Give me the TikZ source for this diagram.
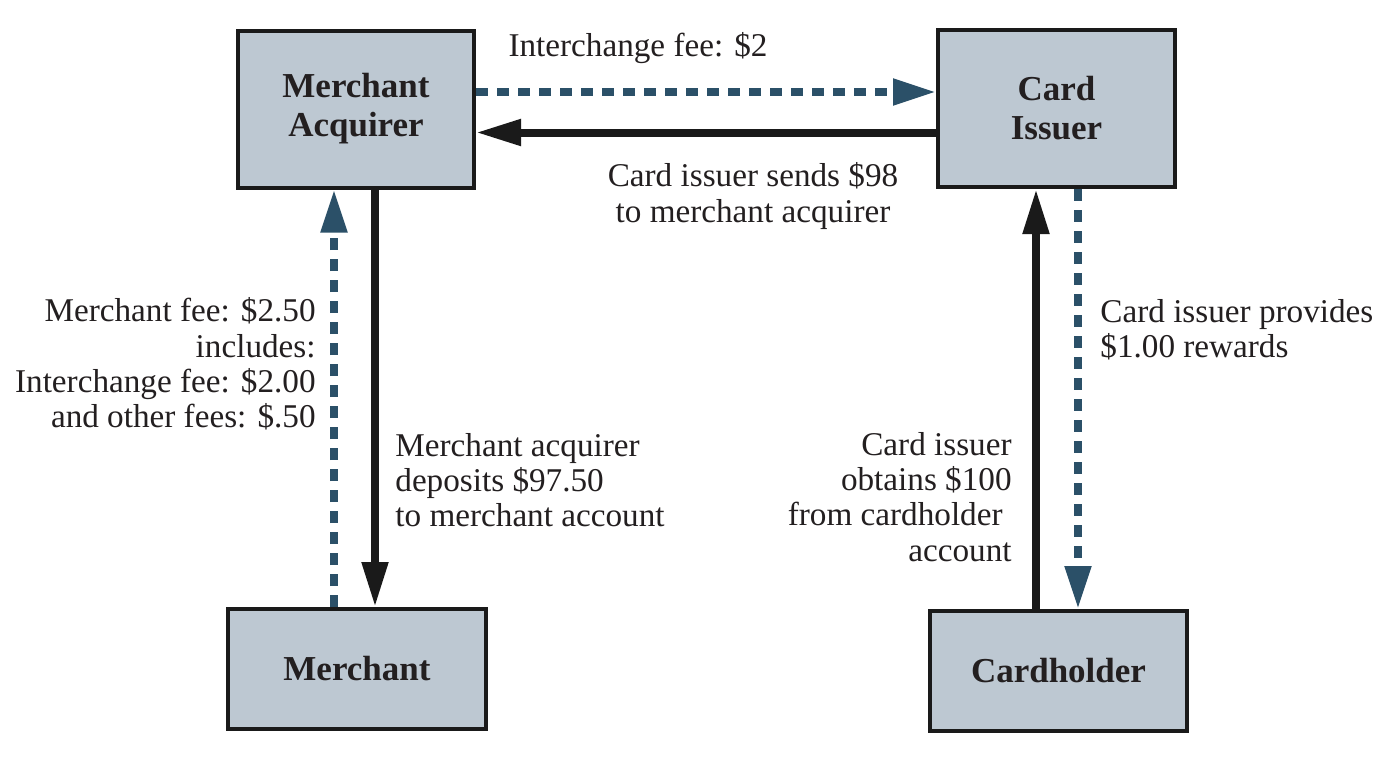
\documentclass[tikz,border=0pt]{standalone}
\usepackage{fontspec}
\setmainfont{Liberation Serif}
\usetikzlibrary{arrows.meta}
\definecolor{boxfill}{HTML}{BDC8D2}
\definecolor{boxline}{HTML}{1A1A1A}
\definecolor{dashblue}{HTML}{2B5068}
\definecolor{txt}{HTML}{231F20}
\begin{document}
\begin{tikzpicture}[x=0.5pt,y=-0.5pt,
  box/.style={draw=boxline,fill=boxfill,line width=2pt,inner sep=0pt,
    font=\fontsize{17.5}{20}\selectfont\bfseries,text=txt,align=center},
  lbl/.style={inner sep=0pt,font=\fontsize{16.6}{17.6}\selectfont,text=txt},
  solidarrow/.style={draw=boxline,line width=4pt,
    -{Triangle[length=22.5pt,width=12.5pt]}},
  dasharrow/.style={draw=dashblue,line width=4pt,dash pattern=on 6pt off 4.5pt,
    -{Triangle[length=21.5pt,width=12.5pt]}}]
\useasboundingbox[fill=white] (0,0) rectangle (1390,760);
\node[box,minimum width=118pt,minimum height=78.5pt] (MA) at (356,109) {Merchant\\[-0.5pt]Acquirer};
\node[box,minimum width=118.5pt,minimum height=78.5pt] (CI) at (1056.5,108.5) {Card\\[-0.5pt]Issuer};
\node[box,minimum width=129pt,minimum height=60pt] (M) at (357,669) {Merchant};
\node[box,minimum width=128.5pt,minimum height=60pt] (CH) at (1058.5,671) {Cardholder};

\draw[dasharrow] ([yshift=8.5pt]MA.east) -- ([yshift=8.5pt]MA.east -| CI.west);
\draw[solidarrow] ([yshift=-12pt]CI.west) -- ([yshift=-12pt]CI.west -| MA.east);
\draw[dasharrow] ([xshift=-11.5pt]M.north) -- ([xshift=-11.5pt]M.north |- MA.south);
\draw[solidarrow] ([xshift=9.5pt]MA.south) -- ([xshift=9.5pt]MA.south |- M.north);
\draw[solidarrow] ([xshift=-11.25pt]CH.north) -- ([xshift=-11.25pt]CH.north |- CI.south);
\draw[dasharrow] ([xshift=10.75pt]CI.south) -- ([xshift=10.75pt]CI.south |- CH.north);

\node[lbl] (t1) at (638,48) {Interchange fee: \$2};
\node[lbl,align=center] (t2) at (753,196) {Card issuer sends \$98\\to merchant acquirer};
\node[lbl,align=right,anchor=east] (t3) at (316,364) {Merchant fee: \$2.50\\includes:\\Interchange fee: \$2.00\\and other fees: \$.50};
\node[lbl,align=right,anchor=east] (t5) at (1012,497) {Card issuer\\obtains \$100\\from cardholder\kern4.5pt\\account};
\node[lbl,align=left,anchor=west] (t4) at (395,480) {Merchant acquirer\\deposits \$97.50\\to merchant account};
\node[lbl,align=left,anchor=west] (t6) at (1100,330) {Card issuer provides\\\$1.00 rewards};
\end{tikzpicture}
\end{document}
